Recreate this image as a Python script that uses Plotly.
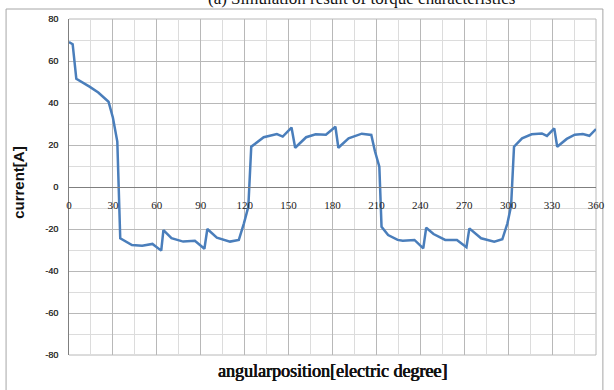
import plotly.graph_objects as go

angle_deg = [0, 2.5, 5, 9, 14, 20, 27, 30, 33, 35, 43, 50, 57, 63, 64.5, 70, 78, 86,
             92.5, 94.5, 101, 110, 116, 119.5, 122.5, 124.5, 133, 142, 146, 152, 154.5,
             162, 168.5, 175.5, 182, 184, 191, 200, 206.5, 209, 212, 213.5, 218, 224.5,
             228, 236, 242, 244, 249, 257, 265, 271.5, 273.5, 281.5, 290.5, 296, 299.5,
             302, 304, 309.5, 316, 323, 326.5, 331.5, 333.5, 340, 345.5, 351, 355.5, 360]
current_a = [69, 68, 51.5, 50, 47.8, 45, 40.6, 33, 21.6, -24.4, -27.6, -28, -27.1, -30.3,
             -20.5, -24.4, -26, -25.6, -29.4, -20, -24.1, -26, -25.2, -17.3, -9.4, 19.2,
             23.7, 25.2, 24, 28.3, 18.7, 23.7, 25.1, 24.9, 28.7, 18.7, 23.2, 25.4, 24.8,
             17, 9.7, -18.9, -22.9, -25.2, -25.6, -25.2, -29.2, -19.4, -22.4, -25.2,
             -25.2, -28.7, -19.7, -24.4, -26, -24.9, -17.3, -9, 19.2, 23.2, 25.1, 25.5,
             24.3, 27.9, 19.2, 22.9, 24.9, 25.2, 24.4, 27.6]

x_ticks = [0, 30, 60, 90, 120, 150, 180, 210, 240, 270, 300, 330, 360]
y_ticks = [80, 60, 40, 20, 0, -20, -40, -60, -80]

title_text = "(a) Simulation result of torque characteristics"
x_title = "angularposition[electric degree]"
y_title = "current[A]"

fig = go.Figure()
fig.add_trace(go.Scatter(x=angle_deg, y=current_a, mode="lines",
                         line=dict(color="#4a7ebb", width=2.5), showlegend=False))

L, R, T, B = 69, 9, 19, 35
W, H = 614, 390
pw, ph = W - L - R, H - T - B

def px_x(p):
    return (p - L) / pw

def px_y(p):
    return (H - B - p) / ph

fig.update_layout(
    width=W, height=H,
    margin=dict(l=L, r=R, t=T, b=B, pad=0),
    paper_bgcolor="white", plot_bgcolor="white",
    xaxis=dict(range=[0, 360], tickvals=x_ticks, ticktext=[str(v) for v in x_ticks],
               showgrid=True, gridcolor="#b8b8b8", gridwidth=1,
               minor=dict(dtick=15, tick0=0, showgrid=True, gridcolor="#dcdcdc", gridwidth=1),
               showline=True, linecolor="#7f7f7f", linewidth=1,
               anchor="free", position=0.5, ticks="", ticklabelstandoff=8,
               zeroline=False,
               tickfont=dict(family="Liberation Serif", size=11, color="#222")),
    yaxis=dict(range=[-80, 80], tickvals=y_ticks, ticktext=[str(v) for v in y_ticks],
               showgrid=True, gridcolor="#b8b8b8", gridwidth=1,
               minor=dict(dtick=10, tick0=0, showgrid=True, gridcolor="#dcdcdc", gridwidth=1),
               showline=True, linecolor="#7f7f7f", linewidth=1,
               zeroline=False, ticks="", ticklabelstandoff=8,
               tickfont=dict(family="Liberation Sans", size=9, color="#333",
                             shadow="0.3px 0 0 #333")),
)

fig.add_shape(type="rect", xref="paper", yref="paper",
              x0=px_x(5), x1=px_x(612), y0=px_y(395), y1=px_y(9),
              line=dict(color="#a6a6a6", width=1), layer="below")
fig.add_shape(type="line", xref="paper", yref="paper",
              x0=0, x1=1, y0=0, y1=0, line=dict(color="#b8b8b8", width=1), layer="below")
fig.add_shape(type="line", xref="paper", yref="paper",
              x0=0, x1=1, y0=1, y1=1, line=dict(color="#b8b8b8", width=1), layer="below")
fig.add_shape(type="line", xref="paper", yref="paper",
              x0=1, x1=1, y0=0, y1=1, line=dict(color="#b8b8b8", width=1), layer="below")

fig.add_annotation(text=title_text, xref="paper", yref="paper",
                   x=px_x(366), y=px_y(10), xanchor="center", yanchor="bottom",
                   showarrow=False,
                   font=dict(family="Liberation Serif", size=17, color="#111"))
fig.add_annotation(text=x_title, xref="paper", yref="paper",
                   x=px_x(337), y=px_y(371), xanchor="center", yanchor="middle",
                   showarrow=False,
                   font=dict(family="Liberation Serif", size=18, color="#111",
                             shadow="0.6px 0 0 #111, -0.3px 0 0 #111"))
fig.add_annotation(text=y_title, xref="paper", yref="paper",
                   x=px_x(17), y=px_y(182), xanchor="center", yanchor="middle",
                   textangle=-90, showarrow=False,
                   font=dict(family="Liberation Sans, Arial, sans-serif", size=15,
                             weight="bold", color="#111"))

fig.write_html("out.html")
